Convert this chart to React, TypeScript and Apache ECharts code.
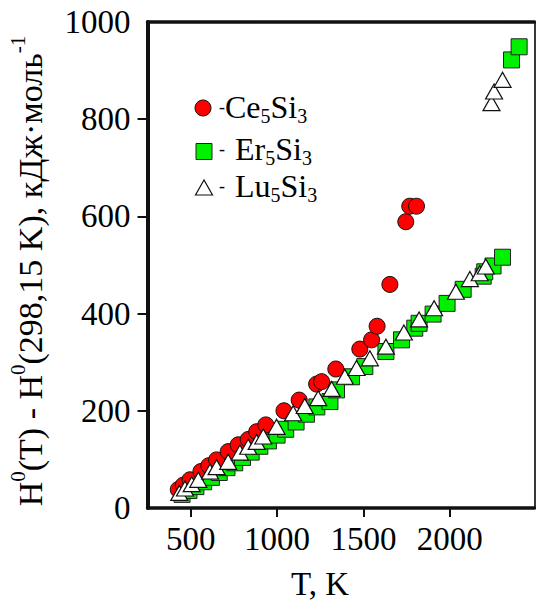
import React, { useEffect, useRef } from "react";
import * as echarts from "echarts";

// Ce5Si3 (red circles)
const ceT = [428, 457, 496, 559, 605, 650, 717, 775, 833, 882, 935, 1040, 1128, 1229, 1258, 1340, 1479, 1547, 1579, 1653, 1745, 1768, 1807];
const ceH = [38, 47, 58, 75, 87, 99, 116, 130, 141, 157, 171, 200, 222, 255, 260, 286, 327, 346, 374, 460, 589, 621, 621];

// Er5Si3 (green squares)
const erT = [450, 490, 530, 575, 620, 665, 710, 755, 800, 850, 900, 950, 1000, 1050, 1110, 1170, 1230, 1306, 1344, 1431, 1508, 1630, 1720, 1797, 1822, 1903, 1984, 2077, 2193, 2202, 2250, 2305, 2357, 2401];
const erH = [28, 36, 44, 54, 63, 73, 83, 93, 104, 115, 127, 138, 150, 162, 177, 193, 208, 219, 243, 270, 291, 322, 346, 370, 380, 399, 421, 450, 477, 486, 498, 516, 922, 949];

// Lu5Si3 (white triangles)
const luT = [434, 467, 506, 544, 612, 650, 717, 785, 833, 882, 920, 997, 1093, 1160, 1238, 1316, 1392, 1460, 1537, 1630, 1734, 1822, 1909, 2035, 2116, 2173, 2208, 2241, 2256, 2305];
const luH = [31, 40, 49, 58, 75, 84, 95, 114, 126, 136, 147, 167, 195, 210, 226, 245, 270, 288, 308, 332, 361, 388, 411, 445, 471, 483, 497, 833, 857, 881];

const xTicks = [500, 1000, 1500, 2000];
const yTicks = [200, 400, 600, 800];

const FONT = "'Liberation Serif', 'Times New Roman', serif";

const zip = (a: number[], b: number[]) => a.map((v, i) => [v, b[i]]);

export default function App() {
  const ref = useRef<HTMLDivElement>(null);
  useEffect(() => {
    if (!ref.current) return;
    const chart = echarts.init(ref.current, undefined, { renderer: "svg" });
    const legRich = {
      d: { fontSize: 18, fontFamily: FONT, color: "#000", lineHeight: 34 },
      m: { fontSize: 32, fontFamily: FONT, color: "#000", lineHeight: 34 },
      g: { fontSize: 32, fontFamily: FONT, color: "#000", lineHeight: 34, padding: [0, 0, 0, 10] },
      s: { fontSize: 20, fontFamily: FONT, color: "#000", lineHeight: 20, verticalAlign: "top", padding: [16, 0, 0, 0] },
    };
    const titleRich = {
      m: { fontSize: 34, fontFamily: FONT, color: "#000", lineHeight: 46 },
      u: { fontSize: 21, fontFamily: FONT, color: "#000", lineHeight: 21, verticalAlign: "top", padding: [0, 0, 0, 0] },
    };
    chart.setOption({
      animation: false,
      backgroundColor: "#fff",
      grid: { left: 147.5, right: 1.5, top: 22, bottom: 94 },
      xAxis: [
        {
          type: "value",
          min: 250,
          max: 2490,
          axisLine: { onZero: false, lineStyle: { color: "#111", width: 3.5 } },
          axisTick: { show: true, customValues: xTicks, length: 9, lineStyle: { color: "#111", width: 2 } },
          axisLabel: { customValues: xTicks, fontSize: 33, fontFamily: FONT, color: "#000", margin: 14, formatter: (v: number) => String(v) },
          splitLine: { show: false },
        },
        {
          type: "value",
          position: "top",
          min: 250,
          max: 2490,
          axisLine: { show: true, onZero: false, lineStyle: { color: "#111", width: 3.5 } },
          axisTick: { show: false },
          axisLabel: { show: false },
          splitLine: { show: false },
        },
      ],
      yAxis: [
        {
          type: "value",
          min: 0,
          max: 1000,
          interval: 200,
          axisLine: { show: true, onZero: false, lineStyle: { color: "#111", width: 4 } },
          axisTick: { show: true, customValues: yTicks, length: 10, lineStyle: { color: "#111", width: 2 } },
          axisLabel: { fontSize: 33, fontFamily: FONT, color: "#000", margin: 17, formatter: (v: number) => String(v) },
          splitLine: { show: false },
        },
        {
          type: "value",
          position: "right",
          min: 0,
          max: 1000,
          axisLine: { show: true, onZero: false, lineStyle: { color: "#222", width: 1.8 } },
          axisTick: { show: false },
          axisLabel: { show: false },
          splitLine: { show: false },
        },
      ],
      series: [
        {
          name: "Er5Si3",
          type: "scatter",
          xAxisIndex: 0,
          yAxisIndex: 0,
          symbol: "rect",
          symbolSize: 16,
          itemStyle: { color: "#00f000", borderColor: "#222", borderWidth: 1, opacity: 1 },
          data: zip(erT, erH),
        },
        {
          name: "Ce5Si3",
          type: "scatter",
          xAxisIndex: 0,
          yAxisIndex: 0,
          symbol: "circle",
          symbolSize: 16,
          itemStyle: { color: "#ff0000", borderColor: "#111", borderWidth: 1, opacity: 1 },
          data: zip(ceT, ceH),
        },
        {
          name: "Lu5Si3",
          type: "scatter",
          xAxisIndex: 0,
          yAxisIndex: 0,
          symbol: "triangle",
          symbolSize: [17, 15],
          itemStyle: { color: "#fff", borderColor: "#111", borderWidth: 1.2, opacity: 1 },
          data: zip(luT, luH),
        },
      ],
      graphic: [
        { type: "circle", shape: { cx: 203, cy: 108, r: 8 }, style: { fill: "#ff0000", stroke: "#111", lineWidth: 1 } },
        { type: "rect", shape: { x: 196, y: 143.5, width: 16, height: 16 }, style: { fill: "#00f000", stroke: "#222", lineWidth: 1 } },
        { type: "polygon", shape: { points: [[204, 180], [195.5, 195], [212.5, 195]] }, style: { fill: "#fff", stroke: "#111", lineWidth: 1.2 } },
        {
          type: "text", x: 219, y: 107,
          style: { text: "{d|-}{m|Ce}{s|5}{m|Si}{s|3}", rich: legRich, align: "left", verticalAlign: "middle" },
        },
        {
          type: "text", x: 219, y: 148.5,
          style: { text: "{d|-}{g|Er}{s|5}{m|Si}{s|3}", rich: legRich, align: "left", verticalAlign: "middle" },
        },
        {
          type: "text", x: 219, y: 186,
          style: { text: "{d|-}{g|Lu}{s|5}{m|Si}{s|3}", rich: legRich, align: "left", verticalAlign: "middle" },
        },
        {
          type: "text", x: 30, y: 271, rotation: Math.PI / 2,
          style: {
            text: "{m|H}{u|0}{m|(T) - H}{u|0}{m|(298,15 K), кДж·моль}{u|-1}",
            rich: titleRich, align: "center", verticalAlign: "middle",
          },
        },
        {
          type: "text", x: 320, y: 584,
          style: { text: "T, K", fontSize: 33, lineHeight: 30, fontFamily: FONT, fill: "#000", align: "center", verticalAlign: "middle" },
        },
      ],
    });
    return () => chart.dispose();
  }, []);
  return <div ref={ref} style={{ position: "fixed", left: 0, top: 0, width: 536, height: 602 }} />;
}
